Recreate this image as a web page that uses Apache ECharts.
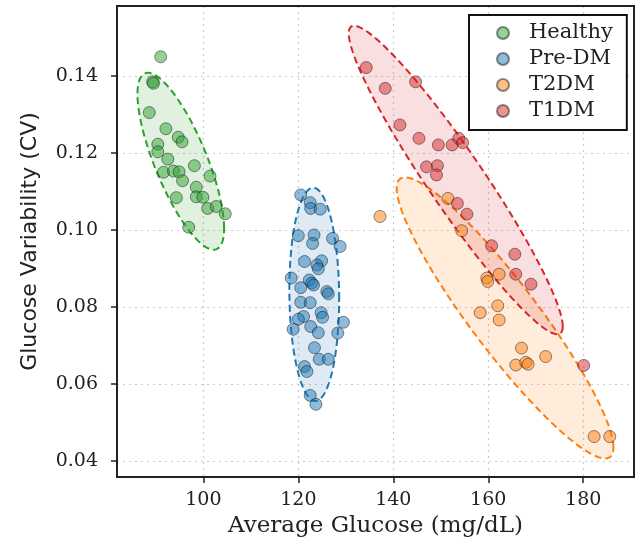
<!DOCTYPE html>
<html>
<head>
<meta charset="utf-8">
<script src="https://cdn.jsdelivr.net/npm/echarts@6/dist/echarts.min.js"></script>
<style>html,body{margin:0;padding:0;background:#fff}#chart{width:640px;height:545px}</style>
</head>
<body>
<div id="chart"></div>
<script>
// ---- data (average glucose mg/dL, CV) ----
const groupNames = ['Healthy', 'Pre-DM', 'T2DM', 'T1DM'];
const healthy = [
  [91.0,0.1450],[89.3,0.1385],[89.5,0.1381],[88.6,0.1305],[92.1,0.1263],[94.7,0.1241],
  [95.5,0.1229],[90.4,0.1223],[90.4,0.1203],[92.5,0.1184],[98.1,0.1167],[91.6,0.1150],
  [93.7,0.1153],[94.9,0.1151],[101.4,0.1140],[95.6,0.1128],[98.5,0.1111],[98.5,0.1086],
  [99.9,0.1085],[94.3,0.1084],[100.9,0.1056],[102.7,0.1061],[104.6,0.1042],[96.9,0.1007]
];
const preDM = [
  [120.5,0.1091],[122.5,0.1071],[122.6,0.1056],[124.6,0.1054],[120.0,0.0985],[123.3,0.0987],
  [123.0,0.0965],[127.2,0.0978],[128.8,0.0957],[121.3,0.0918],[124.9,0.0920],[123.9,0.0909],
  [124.2,0.0899],[118.5,0.0875],[122.3,0.0870],[122.8,0.0862],[123.2,0.0857],[120.5,0.0850],
  [126.0,0.0840],[126.3,0.0834],[120.5,0.0812],[122.5,0.0811],[124.8,0.0785],[125.1,0.0773],
  [121.1,0.0775],[120.0,0.0768],[118.9,0.0742],[122.6,0.0749],[124.2,0.0733],[129.5,0.0760],
  [128.3,0.0732],[123.4,0.0694],[124.4,0.0664],[126.3,0.0664],[121.3,0.0645],[121.8,0.0632],
  [122.5,0.0570],[123.7,0.0547]
];
const t2dm = [
  [137.2,0.1035],[151.5,0.1082],[154.4,0.0998],[159.7,0.0875],[159.9,0.0866],[162.3,0.0885],
  [162.0,0.0803],[158.3,0.0785],[162.3,0.0766],[167.0,0.0693],[172.1,0.0671],[165.8,0.0649],
  [167.9,0.0656],[168.4,0.0651],[182.3,0.0463],[185.6,0.0463]
];
const t1dm = [
  [134.3,0.1422],[138.3,0.1368],[144.7,0.1385],[141.4,0.1273],[145.4,0.1238],[149.5,0.1221],
  [152.4,0.1221],[153.8,0.1238],[154.6,0.1227],[147.0,0.1164],[149.3,0.1167],[149.1,0.1143],
  [153.5,0.1069],[155.5,0.1041],[160.7,0.0959],[165.6,0.0937],[165.8,0.0885],[169.0,0.0859],
  [180.1,0.0648]
];
const xTicks = [100, 120, 140, 160, 180];
const yTicks = [0.04, 0.06, 0.08, 0.10, 0.12, 0.14];

// ---- styling ----
const colors = ['#2ca02c', '#1f77b4', '#ff7f0e', '#d62728'];
const groups = [healthy, preDM, t2dm, t1dm];
const N_STD = 2;

function rgba(hex, a) {
  const n = parseInt(hex.slice(1), 16);
  return 'rgba(' + ((n >> 16) & 255) + ',' + ((n >> 8) & 255) + ',' + (n & 255) + ',' + a + ')';
}

function ellipseSeries(pts, color) {
  const n = pts.length;
  let mx = 0, my = 0;
  pts.forEach(p => { mx += p[0]; my += p[1]; });
  mx /= n; my /= n;
  let sxx = 0, syy = 0, sxy = 0;
  pts.forEach(p => { const dx = p[0] - mx, dy = p[1] - my; sxx += dx * dx; syy += dy * dy; sxy += dx * dy; });
  sxx /= (n - 1); syy /= (n - 1); sxy /= (n - 1);
  const a = Math.sqrt(sxx), b = sxy / a, c = Math.sqrt(Math.max(syy - b * b, 0));
  return {
    type: 'custom',
    coordinateSystem: 'cartesian2d',
    silent: true,
    z: 1,
    clip: true,
    data: [[mx, my]],
    renderItem: function (params, api) {
      const poly = [];
      for (let i = 0; i < 120; i++) {
        const t = 2 * Math.PI * i / 120;
        const ct = Math.cos(t), st = Math.sin(t);
        poly.push(api.coord([mx + N_STD * a * ct, my + N_STD * (b * ct + c * st)]));
      }
      return {
        type: 'polygon',
        shape: { points: poly },
        style: { fill: rgba(color, 0.15), stroke: color, lineWidth: 2, lineDash: [7, 4] }
      };
    }
  };
}

const series = [];
groups.forEach((g, i) => series.push(ellipseSeries(g, colors[i])));
groups.forEach((g, i) => series.push({
  type: 'scatter',
  name: groupNames[i],
  data: g,
  symbolSize: 12,
  z: 3,
  itemStyle: { color: rgba(colors[i], 0.62), borderColor: 'rgba(0,0,0,0.55)', borderWidth: 1 }
}));

const serif = 'DejaVu Serif';
const chart = echarts.init(document.getElementById('chart'), null, { renderer: 'canvas' });
chart.setOption({
  animation: false,
  backgroundColor: '#fff',
  grid: { left: 117, right: 6, top: 6, bottom: 68, containLabel: false },
  legend: {
    data: groupNames,
    orient: 'vertical',
    left: 469, top: 15,
    padding: [7, 14, 8, 27],
    itemWidth: 42, itemHeight: 12,
    itemGap: 4,
    icon: 'circle',
    backgroundColor: '#fff',
    borderColor: '#111',
    borderWidth: 2,
    borderRadius: 0,
    textStyle: { fontFamily: serif, fontSize: 21, color: '#222', lineHeight: 22 }
  },
  xAxis: {
    type: 'value',
    min: 81.8, max: 190.7,
    name: 'Average Glucose (mg/dL)',
    nameLocation: 'middle',
    nameGap: 37,
    nameTextStyle: { fontFamily: serif, fontSize: 23, color: '#222' },
    axisLine: { show: true, onZero: false, lineStyle: { color: '#222', width: 2 } },
    axisTick: { show: true, length: 6, customValues: xTicks, lineStyle: { color: '#222', width: 1.5 } },
    axisLabel: { customValues: xTicks, margin: 14, fontFamily: serif, fontSize: 19, color: '#222' },
    splitLine: { show: true, lineStyle: { color: '#ccc', type: [2, 4], width: 1.2 } }
  },
  yAxis: {
    type: 'value',
    min: 0.0358, max: 0.1582,
    name: 'Glucose Variability (CV)',
    nameLocation: 'middle',
    nameGap: 76,
    nameTextStyle: { fontFamily: 'DejaVu Sans', fontSize: 22, color: '#222' },
    axisLine: { show: true, onZero: false, lineStyle: { color: '#222', width: 2 } },
    axisTick: { show: true, length: 6, customValues: yTicks, lineStyle: { color: '#222', width: 1.5 } },
    axisLabel: { customValues: yTicks, margin: 19, fontFamily: serif, fontSize: 19, color: '#222',
      formatter: v => v.toFixed(2) },
    splitLine: { show: true, lineStyle: { color: '#ccc', type: [2, 4], width: 1.2 } }
  },
  series: series
});
// frame on top/right drawn around the grid rect
const gridRect = chart.getModel().getComponent('grid').coordinateSystem.getRect();
chart.setOption({
  graphic: [{
    type: 'rect', silent: true, z: 0,
    shape: { x: gridRect.x, y: gridRect.y, width: gridRect.width, height: gridRect.height },
    style: { fill: 'none', stroke: '#222', lineWidth: 2 }
  }]
});
</script>
</body>
</html>
